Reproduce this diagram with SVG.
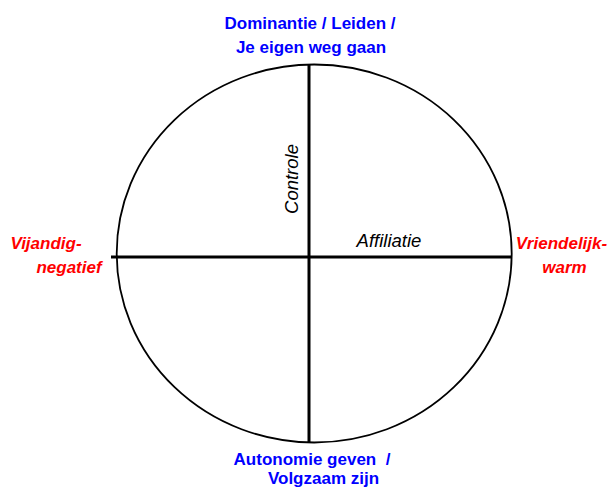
<svg xmlns="http://www.w3.org/2000/svg" width="610" height="489" viewBox="0 0 610 489">
<style>
.lbl{font-family:"Liberation Sans",Arial,sans-serif;font-weight:bold;font-size:17px;text-anchor:middle}
.blue{fill:#0000ff}
.red{fill:#ff0000;font-style:italic}
.axis{font-family:"Liberation Sans",Arial,sans-serif;font-style:italic;font-size:18.5px;fill:#000;text-anchor:middle}
.ax{stroke:#000;stroke-width:3;fill:none}
</style>
<rect width="610" height="489" fill="#fff"/>
<g id="circle">
<ellipse cx="314.2" cy="253.5" rx="197.5" ry="189" fill="none" stroke="#000" stroke-width="1.8"/>
</g>
<g id="connectors">
<line class="ax" x1="111" y1="257" x2="511" y2="257"/>
<line class="ax" x1="309" y1="64" x2="309" y2="443"/>
</g>
<g id="top">
<text class="lbl blue" x="310" y="29">Dominantie / Leiden /</text>
<text class="lbl blue" x="311" y="53">Je eigen weg gaan</text>
</g>
<g id="bottom">
<text class="lbl blue" x="312" y="465" xml:space="preserve" style="white-space:pre">Autonomie geven  /</text>
<text class="lbl blue" x="323.5" y="484">Volgzaam zijn</text>
</g>
<g id="left">
<text class="lbl red" x="46" y="249">Vijandig-</text>
<text class="lbl red" x="69" y="273">negatief</text>
</g>
<g id="right">
<text class="lbl red" x="561.5" y="249">Vriendelijk-</text>
<text class="lbl red" x="564.5" y="273">warm</text>
</g>
<g id="controle">
<text class="axis" transform="translate(298 179) rotate(-90)" x="0" y="0">Controle</text>
</g>
<g id="affiliatie">
<text class="axis" x="389" y="247">Affiliatie</text>
</g>
</svg>
